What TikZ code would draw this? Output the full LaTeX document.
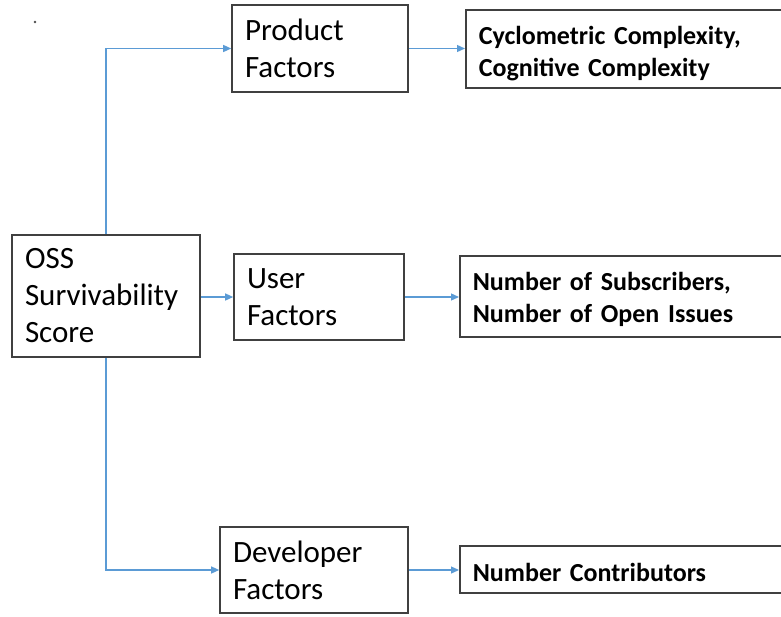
\documentclass[tikz,border=0pt]{standalone}
\usepackage{fontspec}
\setmainfont{Carlito}
\usetikzlibrary{arrows.meta}
\definecolor{linkblue}{RGB}{91,155,213}
\definecolor{boxline}{RGB}{64,64,64}
\newcommand{\topstrut}[1]{\rule{0pt}{#1}}
\tikzset{
  box/.style={draw=boxline, line width=1.6pt, fill=white, rectangle,
    inner xsep=13pt, inner ysep=0pt, align=left,
    font=\fontsize{31}{37}\selectfont},
  metric/.style={box, anchor=west, text width=#1,
    font=\bfseries\fontsize{26}{32}\selectfont},
  link/.style={draw=linkblue, line width=1.3pt,
    -{Triangle[length=8pt,width=7pt]}}
}
\begin{document}
\begin{tikzpicture}[x=1pt,y=-1pt]
\useasboundingbox (0,0) rectangle (781,616);
\clip (0,0) rectangle (781,616);
\fill[black!70] (35,22) circle (1.3);

% factor boxes
\node[box, minimum width=188pt, minimum height=122pt, text width=162pt] (oss) at (106,296) {OSS\\Survivability\\Score};
\node[box, minimum width=176pt, minimum height=87pt, text width=150pt] (prod) at (320,48.5) {Product\\Factors};
\node[box, minimum width=170pt, minimum height=86pt, text width=144pt] (user) at (319,297) {User\\Factors};
\node[box, minimum width=188pt, minimum height=86pt, text width=162pt] (dev) at (314,570) {Developer\\Factors};

% metric boxes (run past the right edge)
\node[metric=320pt, minimum height=78pt] (cc) at (465,49) {\topstrut{28pt}Cyclometric Complexity,\\Cognitive Complexity};
\node[metric=320pt, minimum height=81pt] (subs) at (459,296.5) {\topstrut{24pt}Number of Subscribers,\\Number of Open Issues};
\node[metric=320pt, minimum height=47pt] (contrib) at (459,569.5) {\topstrut{24pt}Number Contributors};

% connectors
\draw[link] (oss.north) |- (prod.west);
\draw[link] (oss.east |- user.west) -- (user.west);
\draw[link] (oss.south) |- (dev.west);
\draw[link] (prod.east) -- (prod.east -| cc.west);
\draw[link] (user.east) -- (user.east -| subs.west);
\draw[link] (dev.east) -- (dev.east -| contrib.west);
\end{tikzpicture}
\end{document}
